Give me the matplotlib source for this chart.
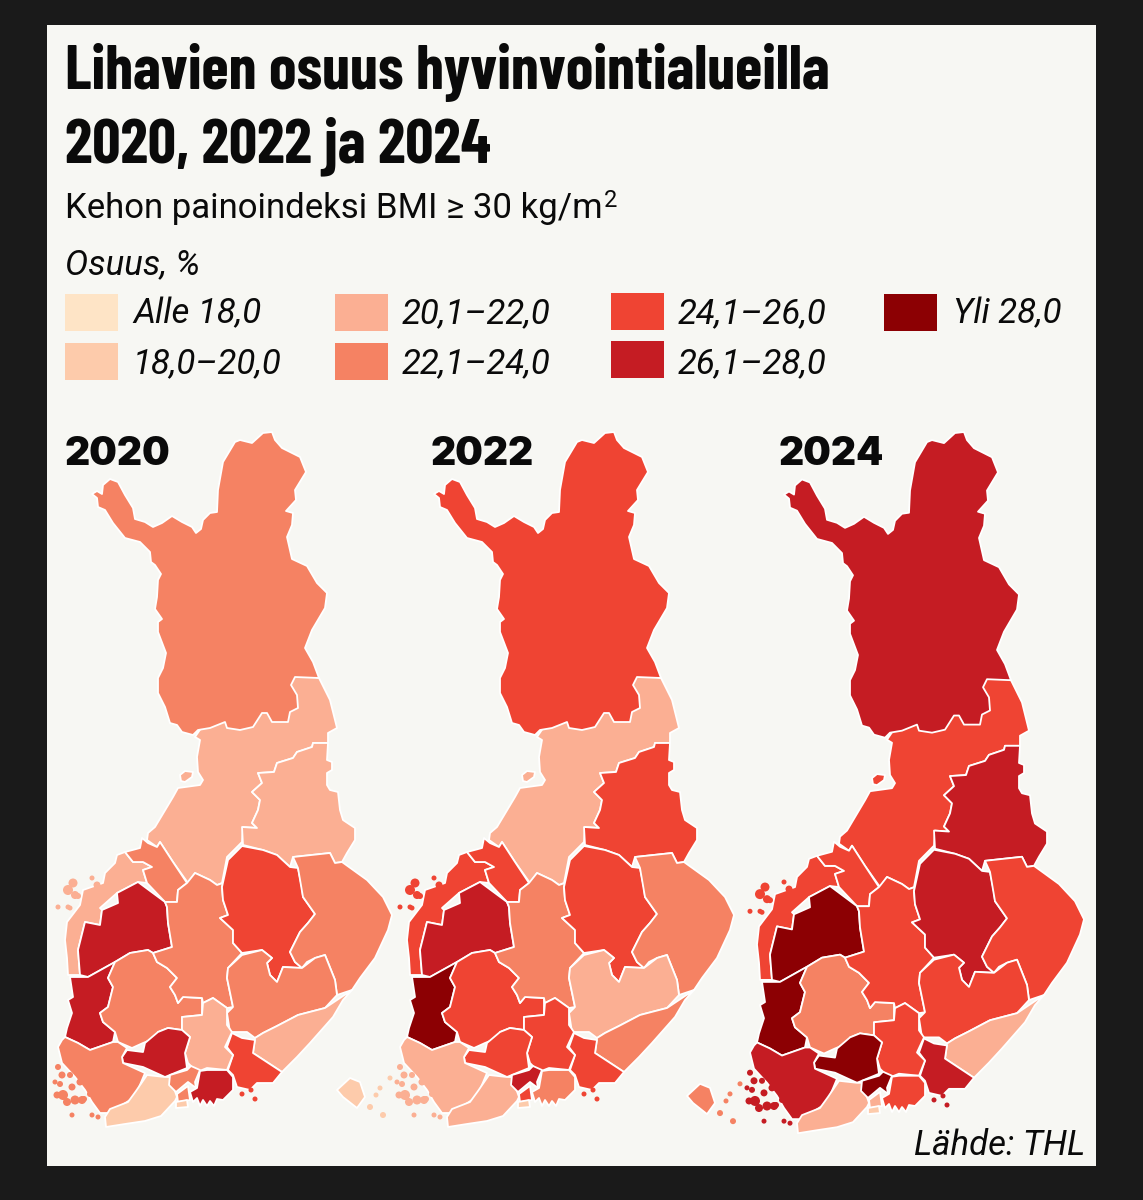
# -*- coding: utf-8 -*-
import matplotlib
matplotlib.use('Agg')
import matplotlib.pyplot as plt
import numpy as np

# legend classes
class_labels = ['Alle 18,0', '18,0–20,0', '20,1–22,0', '22,1–24,0', '24,1–26,0', '26,1–28,0', 'Yli 28,0']
class_colors = ['#FEE4C6', '#FDCBAB', '#FBAF93', '#F58263', '#EF4433', '#C51C23', '#8C0003']

years = ['2020', '2022', '2024']

# region outlines in picture pixels
pohjois_pohjanmaa = [(319,678),(330,700),(337,728),(328,733),(328,743),(313,743),(312,747),(297,752),(293,758),(277,763),(274,772),(258,773),(262,783),(252,792),(260,800),(258,810),(252,823),(257,828),(243,827),(242,842),(227,857),(222,883),(217,885),(210,880),(195,873),(188,883),(173,862),(160,842),(157,847),(147,840),(148,833),(155,827),(173,797),(178,788),(200,785),(203,780),(198,772),(197,757),(200,740),(195,737),(210,715),(280,700),(295,672)]
kainuu = [(328,743),(327,760),(332,762),(332,770),(327,773),(327,785),(330,790),(338,792),(340,810),(343,820),(355,828),(355,840),(347,853),(342,862),(335,863),(330,853),(293,857),(290,867),(277,855),(263,850),(243,845),(242,827),(257,828),(252,823),(258,810),(260,800),(252,792),(262,783),(258,773),(274,772),(277,763),(293,758),(297,752),(312,747),(313,743)]
lappi = [(92,494),(97,491),(102,494),(103,485),(110,479),(118,482),(125,495),(133,508),(135,519),(145,522),(153,527),(162,523),(172,516),(182,522),(192,527),(196,533),(201,529),(203,520),(210,513),(217,512),(218,490),(223,462),(235,442),(240,440),(252,443),(263,433),(272,432),(275,440),(282,448),(300,457),(306,472),(295,490),(296,500),(286,511),(293,513),(292,525),(287,537),(292,559),(307,566),(317,583),(327,593),(325,608),(312,630),(305,648),(313,662),(319,678),(295,677),(291,685),(297,695),(298,708),(290,712),(288,722),(272,722),(267,713),(262,713),(253,727),(240,730),(227,728),(225,722),(210,728),(198,730),(193,735),(182,732),(177,725),(170,723),(165,707),(158,693),(158,678),(163,668),(166,653),(158,632),(158,622),(162,619),(155,609),(157,597),(158,580),(161,574),(155,565),(151,562),(150,552),(140,542),(125,538),(113,523),(105,510),(98,507),(97,498)]
hailuoto = [(180,775),(185,771),(193,772),(192,777),(185,782),(181,781)]
pohjanmaa = [(117,855),(125,852),(133,862),(143,862),(152,867),(143,870),(147,883),(138,882),(117,893),(100,908),(102,910),(100,925),(85,922),(78,950),(80,975),(68,975),(67,958),(65,940),(67,922),(80,905),(83,890),(103,883),(105,873),(115,863)]
keski_pohjanmaa = [(125,852),(140,848),(142,838),(148,843),(157,847),(160,842),(173,862),(187,883),(178,890),(177,902),(165,902),(147,883),(143,870),(152,867),(143,862),(133,862)]
etela_pohjanmaa = [(80,975),(78,950),(85,922),(100,925),(102,910),(118,903),(117,893),(138,882),(165,902),(167,907),(168,923),(172,947),(153,953),(148,950),(130,953),(115,962),(88,977)]
satakunta = [(70,977),(88,977),(115,962),(108,978),(113,987),(108,1007),(100,1013),(103,1022),(115,1032),(113,1042),(90,1050),(78,1043),(65,1037),(67,1028),(72,1013),(68,1000),(73,997)]
pirkanmaa = [(115,962),(130,953),(148,950),(153,953),(157,962),(167,968),(177,978),(170,987),(175,995),(178,1003),(183,997),(202,998),(202,1015),(182,1017),(182,1030),(168,1028),(158,1032),(158,1037),(143,1043),(132,1048),(118,1042),(115,1032),(103,1022),(100,1013),(108,1007),(113,987),(108,978)]
keski_suomi = [(195,873),(210,880),(217,885),(223,883),(222,887),(223,900),(228,915),(220,918),(233,930),(233,943),(242,953),(228,968),(227,978),(233,1007),(227,1008),(213,998),(203,1003),(202,998),(183,997),(178,1003),(175,995),(170,987),(177,978),(167,968),(157,962),(153,953),(172,947),(168,923),(167,907),(165,902),(177,902),(178,890),(187,883)]
pohjois_savo = [(242,846),(263,850),(277,855),(290,867),(298,868),(302,888),(303,897),(315,914),(308,923),(300,932),(290,952),(295,962),(302,968),(283,967),(277,982),(270,975),(267,963),(272,958),(262,950),(242,953),(233,943),(233,930),(220,918),(228,915),(223,900),(222,887),(228,860)]
pohjois_karjala = [(293,857),(330,853),(335,863),(342,862),(367,880),(383,897),(392,915),(388,930),(375,958),(360,978),(352,990),(337,995),(335,980),(325,955),(315,958),(307,962),(302,968),(295,962),(290,952),(300,932),(308,923),(315,914),(303,897),(298,868)]
etela_savo = [(242,955),(262,950),(272,958),(267,963),(270,975),(277,982),(283,967),(302,968),(315,958),(325,955),(335,980),(337,995),(325,1008),(298,1015),(277,1026),(263,1033),(255,1038),(247,1032),(230,1032),(227,1013),(233,1007),(227,978),(228,968)]
etela_karjala = [(352,990),(337,1000),(325,1008),(298,1015),(277,1026),(263,1033),(255,1038),(253,1053),(282,1072),(297,1057),(310,1043),(333,1017),(343,1000)]
kymenlaakso = [(232,1033),(242,1038),(255,1040),(253,1053),(282,1072),(273,1083),(257,1083),(250,1090),(237,1087),(233,1075),(228,1070),(233,1055),(227,1047)]
paijat_hame = [(182,1017),(202,1015),(203,1003),(213,998),(227,1008),(227,1025),(232,1032),(225,1047),(233,1055),(227,1070),(207,1068),(197,1072),(188,1063),(185,1053),(190,1037),(182,1030)]
kanta_hame = [(158,1032),(168,1028),(182,1030),(190,1037),(185,1053),(187,1068),(165,1077),(143,1067),(123,1063),(122,1057),(127,1050),(143,1052),(145,1043)]
varsinais_suomi = [(62,1040),(65,1037),(78,1043),(90,1050),(113,1042),(118,1042),(127,1048),(122,1057),(123,1063),(145,1073),(137,1092),(130,1100),(110,1113),(100,1113),(92,1102),(85,1090),(75,1077),(62,1063),(58,1047)]
lansi_uusimaa = [(147,1075),(165,1077),(170,1077),(177,1097),(175,1101),(161,1116),(145,1121),(125,1124),(106,1127),(105,1117),(110,1109),(128,1102),(136,1091)]
keski_uusimaa = [(170,1075),(187,1070),(191,1066),(200,1070),(195,1082),(196,1088),(188,1082),(176,1092),(169,1085)]
vantaa = [(177,1094),(188,1086),(190,1100),(178,1102)]
ita_uusimaa = [(200,1071),(207,1070),(227,1070),(233,1077),(233,1090),(223,1100),(217,1099),(214,1106),(210,1101),(207,1106),(203,1100),(200,1106),(197,1098),(193,1102),(190,1092),(197,1088)]
helsinki = [(176,1102),(187,1100),(188,1107),(176,1108)]
ahvenanmaa = [(-5,1090),(8,1078),(18,1082),(23,1097),(15,1108),(1,1097)]

# draw order matters, later regions sit on top of earlier ones
regions = [pohjois_pohjanmaa, hailuoto, kainuu, lappi, pohjanmaa, keski_pohjanmaa, etela_pohjanmaa, satakunta,
           pirkanmaa, keski_suomi, pohjois_savo, pohjois_karjala, etela_savo, etela_karjala, kymenlaakso,
           paijat_hame, kanta_hame, varsinais_suomi, lansi_uusimaa, keski_uusimaa, vantaa, ita_uusimaa,
           helsinki, ahvenanmaa]

# class index of every region, same order as regions (-1 = outside the panel)
classes_2020 = [2, 2, 2, 3, 2, 3, 5, 5, 3, 3, 4, 3, 3, 2, 4, 2, 5, 3, 1, 3, 3, 5, 1, -1]
classes_2022 = [2, 2, 4, 4, 4, 4, 5, 6, 4, 3, 4, 3, 2, 3, 4, 4, 4, 2, 2, 5, 4, 3, 1, 1]
classes_2024 = [4, 4, 5, 5, 4, 4, 6, 6, 3, 4, 5, 4, 4, 2, 5, 4, 6, 5, 2, 6, 2, 4, 1, 3]

# small islands: x, y, radius, index into regions
islands_x = [58, 62, 55, 60, 63, 57, 72, 75, 82, 67, 72, 92, 98, 70, 80, 90, 66, 78, 84, 73, 68, 75, 92, 97, 58, 68, 70, 78, 242, 251, 255, 38, 48, 41, 28, 34]
islands_y = [1067, 1075, 1082, 1084, 1095, 1095, 1087, 1100, 1100, 1102, 1115, 1115, 1117, 1075, 1082, 1094, 1060, 1070, 1099, 883, 890, 895, 878, 885, 907, 907, 908, 896, 1094, 1090, 1099, 1088, 1078, 1115, 1107, 1095]
islands_r = [3, 3.5, 2.5, 3, 5, 3.5, 3.5, 4.5, 4, 4, 2.5, 2.5, 2.5, 3, 3.5, 3, 3, 3, 3, 4.5, 5, 4, 2.5, 3.5, 2.5, 2.5, 2.5, 3, 2.5, 2.5, 2.5, 2.5, 2.5, 3, 3, 2.5]
islands_region = [17]*19 + [4]*9 + [14]*3 + [23]*5

map_x_offset = [0, 342, 692]
map_y_stretch = [1.0, 1.0, 1.009]

title_font = ['Barlow Condensed', 'Liberation Sans Narrow', 'DejaVu Sans']
body_font = ['Roboto', 'Liberation Sans', 'DejaVu Sans']
year_font = ['Inter', 'DejaVu Sans']

fig = plt.figure(figsize=(11.43, 12), dpi=100, facecolor='#1A1A1A')
ax = fig.add_axes([0, 0, 1, 1])
ax.set_xlim(0, 1143)
ax.set_ylim(1200, 0)
ax.axis('off')

ax.add_patch(plt.Rectangle((47, 25), 1049, 1141, fc='#F7F7F3', ec='none', zorder=0))

for i, classes in enumerate([classes_2020, classes_2022, classes_2024]):
    for outline, c in zip(regions, classes):
        if c < 0:
            continue
        pts = np.array(outline, dtype=float)
        ax.fill(pts[:, 0] + map_x_offset[i], 432 + (pts[:, 1] - 432) * map_y_stretch[i],
                fc=class_colors[c], ec='white', lw=1.3, joinstyle='round', zorder=2)
    for x, y, r, reg in zip(islands_x, islands_y, islands_r, islands_region):
        if classes[reg] < 0:
            continue
        ax.add_patch(plt.Circle((x + map_x_offset[i], 432 + (y - 432) * map_y_stretch[i]), r,
                                fc=class_colors[classes[reg]], ec='none', zorder=2))

# title block
ax.text(65, 89, 'Lihavien osuus hyvinvointialueilla', family=title_font, weight='bold', fontsize=44.8,
        va='baseline', color='#0A0A0A')
ax.text(65, 162, '2020, 2022 ja 2024', family=title_font, weight='bold', fontsize=44.8,
        va='baseline', color='#0A0A0A')
subtitle = ax.text(65, 218, 'Kehon painoindeksi BMI ≥ 30 kg/m', family=body_font, fontsize=25, va='baseline', color='#0A0A0A')
fig.canvas.draw()
# superscript is set by hand, the ² glyph comes out too small
sub_end = subtitle.get_window_extent().x1
ax.text(sub_end + 1, 207, '2', family=body_font, fontsize=17, va='baseline', color='#0A0A0A')
ax.text(65, 274, 'Osuus, %', family=body_font, style='italic', fontsize=25, va='baseline', color='#0A0A0A')

# legend
legend_x = [65, 65, 335, 335, 611, 611, 884]
legend_y = [294, 343, 294, 343, 293, 341, 294]
legend_text_x = [133, 133, 402, 402, 678, 678, 953]
legend_text_y = [323, 373, 323, 373, 323, 373, 323]
for i, lab in enumerate(class_labels):
    ax.add_patch(plt.Rectangle((legend_x[i], legend_y[i]), 53, 37, fc=class_colors[i], ec='none', zorder=1))
    ax.text(legend_text_x[i], legend_text_y[i], lab, family=body_font, style='italic',
            fontsize=25, va='baseline', color='#0A0A0A')

for yr, x in zip(years, [65, 431, 779]):
    ax.text(x, 465, yr, family=year_font, weight='black', fontsize=28, va='baseline', color='#0A0A0A', zorder=3)

ax.text(1085, 1155, 'Lähde: THL', family=body_font, style='italic', fontsize=25, ha='right',
        va='baseline', color='#0A0A0A', zorder=3)

fig.savefig('out.png', dpi=100, facecolor=fig.get_facecolor())
